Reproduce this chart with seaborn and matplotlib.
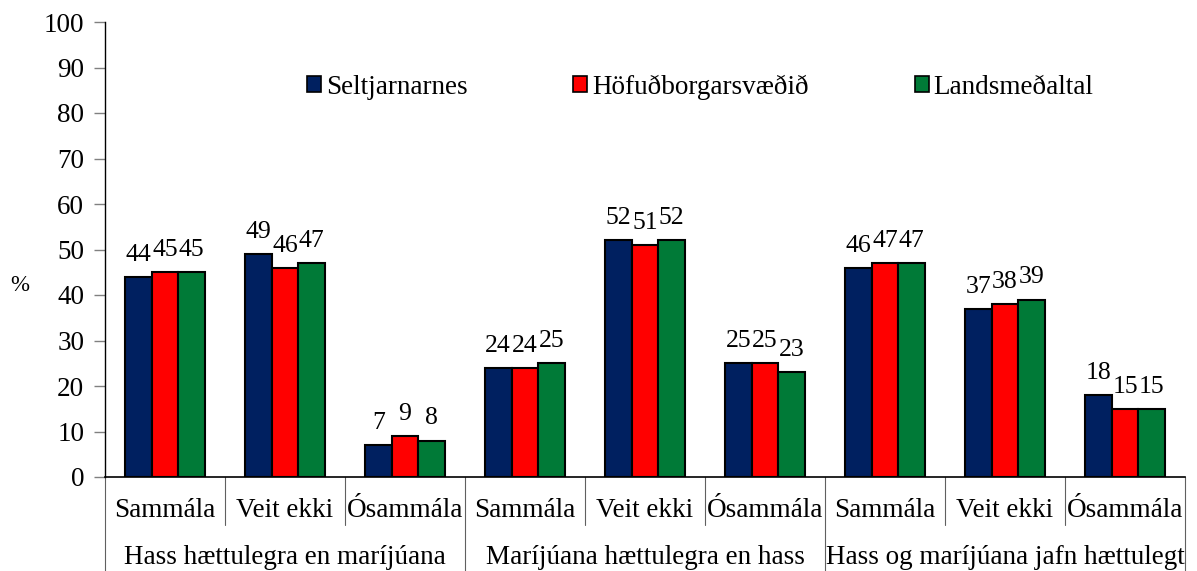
import pandas as pd
import matplotlib
matplotlib.use('Agg')
import matplotlib.pyplot as plt
import matplotlib.transforms as mtransforms
import seaborn as sns

GROUPS = ['Hass hættulegra en maríjúana', 'Maríjúana hættulegra en hass',
          'Hass og maríjúana jafn hættulegt']
ANSWERS = ['Sammála', 'Veit ekki', 'Ósammála']
SERIES = ['Seltjarnarnes', 'Höfuðborgarsvæðið', 'Landsmeðaltal']
SELTJ = [44, 49, 7, 24, 52, 25, 46, 37, 18]
HOFUD = [45, 46, 9, 24, 51, 25, 47, 38, 15]
LANDS = [45, 47, 8, 25, 52, 23, 47, 39, 15]
COLORS = ['#002060', '#FF0000', '#007A37']

# long format table for seaborn
cats = [f'{g}|{a}' for g in GROUPS for a in ANSWERS]
rows = []
for name, vals in zip(SERIES, [SELTJ, HOFUD, LANDS]):
    for c, v in zip(cats, vals):
        rows.append({'cat': c, 'value': v, 'series': name})
df = pd.DataFrame(rows)

sns.set_theme(style='white')
plt.rcParams['font.family'] = ['Liberation Serif', 'DejaVu Serif']
plt.rcParams['text.color'] = 'black'
plt.rcParams['ytick.labelcolor'] = 'black'
FS = 19.5

fig = plt.figure(figsize=(11.97, 5.71), dpi=100)
ax = fig.add_axes([105 / 1197, 94 / 571, 1080 / 1197, 455 / 571])

sns.barplot(data=df, x='cat', y='value', hue='series', order=cats, hue_order=SERIES,
            palette=COLORS, saturation=1, width=0.67, gap=0,
            edgecolor='black', linewidth=1.5, ax=ax)

for cont in ax.containers:
    ax.bar_label(cont, fmt='%d', padding=8, fontsize=18.5, color='black')

ax.set_ylim(0, 100)
ax.set_xlim(-0.5, len(cats) - 0.5)
ax.set_yticks(range(0, 101, 10))
ax.tick_params(axis='y', direction='out', length=8, width=1, color='#808080',
               labelsize=FS, pad=7, left=True, labelcolor='black')
ax.set_xticks([])
ax.set_xlabel('')
ax.set_ylabel('%', rotation=0, fontsize=FS - 3, va='center', color='black')
ax.yaxis.set_label_coords(-0.079, 0.42)

for side in ['top', 'right']:
    ax.spines[side].set_visible(False)
ax.spines['left'].set_color('black')
ax.spines['bottom'].set_color('black')
ax.spines['left'].set_linewidth(1)
ax.spines['bottom'].set_linewidth(1.2)

# multi-level category axis
trans = mtransforms.blended_transform_factory(ax.transData, ax.transAxes)
for i, c in enumerate(cats):
    ax.text(i, -0.074, c.split('|')[1], transform=trans, ha='center', va='center',
            fontsize=FS, clip_on=False)
for j, g in enumerate(GROUPS):
    ax.text(j * 3 + 1, -0.178, g, transform=trans, ha='center', va='center',
            fontsize=FS, clip_on=False)
for k in range(len(cats) + 1):
    bottom = -0.207 if k % 3 == 0 else -0.105
    ax.plot([k - 0.5, k - 0.5], [0, bottom], transform=trans, color='#606060',
            lw=0.8, clip_on=False)

leg = ax.legend(loc='center', bbox_to_anchor=(0.551, 0.857), ncol=3, frameon=False,
                fontsize=FS, handlelength=0.52, handleheight=0.52, handletextpad=0.19,
                columnspacing=3.9)
for h in leg.legend_handles:
    h.set_edgecolor('black')
    h.set_linewidth(1.2)

fig.savefig('out.png', dpi=100)
